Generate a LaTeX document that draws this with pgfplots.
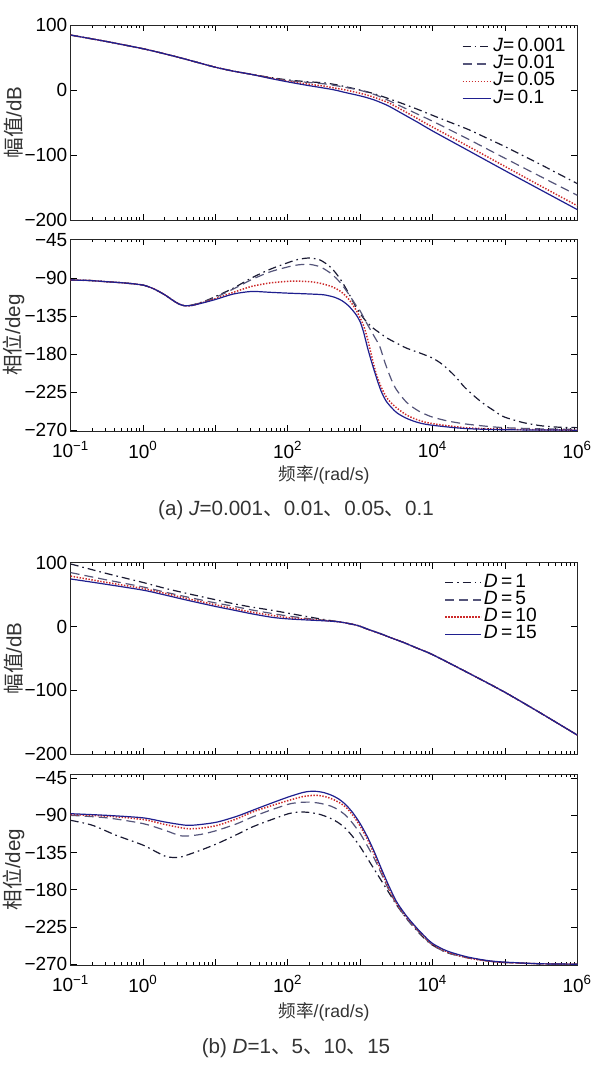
\documentclass[border=0pt]{standalone}
\usepackage{pgfplots}
\pgfplotsset{compat=1.18}
\usepackage{fontspec}
\setmainfont{Liberation Sans}
\newfontfamily\cjk{Noto Sans CJK SC}
\definecolor{cA}{HTML}{1A1A33}
\definecolor{cB}{HTML}{55557A}
\definecolor{cC}{HTML}{CC2A2A}
\definecolor{cD}{HTML}{1F1F8F}
\definecolor{lab}{HTML}{333333}
\pgfplotsset{
 bode/.style={
  scale only axis, width=253.3pt,
  xmin=-1, xmax=6,
  xtick={-1,0,1,2,3,4,5,6},
  minor xtick={-0.699,-0.523,-0.398,-0.301,-0.222,-0.155,-0.097,-0.046,
   0.301,0.477,0.602,0.699,0.778,0.845,0.903,0.954,
   1.301,1.477,1.602,1.699,1.778,1.845,1.903,1.954,
   2.301,2.477,2.602,2.699,2.778,2.845,2.903,2.954,
   3.301,3.477,3.602,3.699,3.778,3.845,3.903,3.954,
   4.301,4.477,4.602,4.699,4.778,4.845,4.903,4.954,
   5.301,5.477,5.602,5.699,5.778,5.845,5.903,5.954},
  tick align=inside,
  major tick length=3pt, minor tick length=1.6pt,
  every tick/.style={black, line width=0.4pt},
  axis line style={line width=0.5pt, black!85},
  tick label style={font=\fontsize{9.5}{10}\selectfont},
  yticklabel style={inner xsep=1.5pt},
  xticklabel style={yshift=-1.5pt},
  every axis plot/.append style={line width=0.6pt, smooth, tension=0.45},
  every axis y label/.style={at={(axis description cs:-0.113,0.5)}, rotate=90, anchor=center, font=\fontsize{10.3}{11}\selectfont, text=lab},
  every axis x label/.style={at={(axis description cs:0.5,0)}, anchor=center, yshift=-22pt, font=\fontsize{8.8}{10}\selectfont, text=lab},
  legend style={draw=none, fill=none, font=\fontsize{9.6}{9}\selectfont, inner sep=0pt, outer sep=0pt, row sep=0pt,
    nodes={inner ysep=0pt, inner xsep=1pt, text height=6.6pt, text depth=2pt}},
  legend cell align=left,
  legend image code/.code={\draw[#1] (0pt,0pt) -- (14pt,0pt);},
 },
 magax/.style={bode, ymin=-200, ymax=100, ytick={-200,-100,0,100},
  yticklabels={−200,−100,0,100}, xticklabels={}, ylabel={{\cjk 幅值}/dB}},
 phax/.style={bode, ymin=-271, ymax=-44, ytick={-270,-225,-180,-135,-90,-45},
  yticklabels={−270,−225,−180,−135,−90,−45},
  xticklabels={10\textsuperscript{−1},10\textsuperscript{0},,10\textsuperscript{2},,10\textsuperscript{4},,10\textsuperscript{6}},
  ylabel={{\cjk 相位}/deg}, xlabel={{\cjk 频率}/(rad/s)}},
 sA/.style={cA, dash pattern=on 4pt off 2pt on 0.8pt off 2pt},
 sB/.style={cB, dash pattern=on 4.5pt off 2.5pt},
 sC/.style={cC, line width=0.75pt, dash pattern=on 0.7pt off 0.8pt},
 sD/.style={cD},
}
\begin{document}
\begin{tikzpicture}
\useasboundingbox (0,0) rectangle (304pt,-536.5pt);
% ---------- (a) magnitude
\begin{axis}[magax, at={(35.35pt,-12.5pt)}, anchor=north west, height=97.5pt,
  legend style={at={(axis description cs:0.981,0.932)}, anchor=north east}]
\addplot[sA] coordinates {(-1,84.5) (-0.5,74.5) (0,63.5) (0.25,57) (0.5,50) (0.75,42.5) (1.0,35) (1.25,29) (1.5,24)
 (1.75,19.5) (2.0,15.5) (2.25,13) (2.5,11) (2.65,8.5) (2.8,5) (3.0,0) (3.2,-6) (3.4,-13.5) (3.6,-21.5) (3.8,-30) (4.0,-39) (4.25,-50) (4.5,-61) (4.75,-74) (5.0,-87) (5.25,-101) (5.5,-115) (5.75,-129.5) (6.0,-144)};
\addlegendentry{\textit{J}=\,0.001}
\addplot[sB] coordinates {(-1,84.5) (-0.5,74.5) (0,63.5) (0.25,57) (0.5,50) (0.75,42.5) (1.0,35) (1.25,29) (1.5,24)
 (1.75,19) (2.0,14.5) (2.25,12) (2.5,9.5) (2.65,7) (2.8,4) (3.0,-0.5) (3.2,-7) (3.4,-16.5) (3.6,-27) (3.8,-37.5) (4.0,-48) (4.5,-76) (5.0,-105) (5.5,-133.5) (6.0,-162)};
\addlegendentry{\textit{J}=\,0.01}
\addplot[sC] coordinates {(-1,84.5) (-0.5,74.5) (0,63.5) (0.25,57) (0.5,50) (0.75,42.5) (1.0,35) (1.25,29) (1.5,24)
 (1.75,18.5) (2.0,13.5) (2.25,9.5) (2.5,6) (2.65,3) (2.8,0) (3.0,-5) (3.1,-8) (3.2,-11.5) (3.3,-15.5) (3.4,-20) (3.6,-32) (3.8,-44.5) (4.0,-57) (4.5,-87) (5.0,-117.5) (5.5,-148) (6.0,-178)};
\addlegendentry{\textit{J}=\,0.05}
\addplot[sD] coordinates {(-1,84.5) (-0.5,74.5) (0,63.5) (0.25,57) (0.5,50) (0.75,42.5) (1.0,35) (1.25,29) (1.5,24)
 (1.75,18) (2.0,12.5) (2.25,7.5) (2.5,3) (2.65,0) (2.8,-4) (3.0,-9) (3.1,-12) (3.2,-15.5) (3.3,-20) (3.4,-25) (3.6,-37.5) (3.8,-50) (4.0,-63) (4.5,-93.5) (5.0,-124) (5.5,-154) (6.0,-184)};
\addlegendentry{\textit{J}=\,0.1}
\end{axis}
% ---------- (a) phase
\begin{axis}[phax, at={(35.35pt,-119.5pt)}, anchor=north west, height=96pt]
\addplot[sA] coordinates {(-1,-92.5) (-0.75,-93) (-0.5,-94.5) (-0.25,-96) (0,-98.5) (0.15,-103) (0.3,-110) (0.42,-117) (0.5,-121) (0.58,-123) (0.68,-122) (0.85,-117.5)
 (1.0,-112) (1.25,-102) (1.5,-90) (1.75,-80) (2.0,-72) (2.15,-68) (2.3,-66.5) (2.45,-69) (2.6,-78) (2.73,-92) (2.84,-108) (2.94,-124) (3.05,-138) (3.16,-148) (3.27,-155) (3.37,-161) (3.5,-167) (3.64,-173) (3.8,-178) (3.98,-184) (4.1,-190) (4.2,-197) (4.32,-207) (4.44,-219) (4.58,-230) (4.71,-239) (4.85,-247) (4.98,-254) (5.25,-261) (5.52,-265) (5.75,-266.5) (6.0,-267)};
\addplot[sB] coordinates {(-1,-92.5) (-0.75,-93) (-0.5,-94.5) (-0.25,-96) (0,-98.5) (0.15,-103) (0.3,-110) (0.42,-117) (0.5,-121) (0.58,-123) (0.68,-122) (0.85,-118)
 (1.0,-113) (1.25,-103) (1.5,-92) (1.75,-83) (2.0,-77) (2.15,-74.5) (2.3,-74) (2.45,-77) (2.6,-85) (2.73,-96) (2.84,-109) (2.94,-122) (3.0,-129) (3.1,-145) (3.2,-160) (3.27,-171) (3.35,-192) (3.43,-210) (3.5,-222) (3.64,-237) (3.8,-247) (3.98,-254) (4.2,-259) (4.44,-262.5) (4.7,-265) (4.98,-267) (5.5,-268.5) (6.0,-269)};
\addplot[sC] coordinates {(-1,-92.5) (-0.75,-93) (-0.5,-94.5) (-0.25,-96) (0,-98.5) (0.15,-103) (0.3,-110) (0.42,-117) (0.5,-121) (0.58,-123) (0.68,-122.5) (0.85,-118.5)
 (1.0,-114.5) (1.25,-107) (1.5,-100) (1.75,-96) (2.0,-94) (2.2,-94) (2.4,-95.5) (2.6,-100) (2.73,-106) (2.84,-115) (2.95,-129) (3.05,-147) (3.11,-165) (3.16,-183) (3.22,-203) (3.29,-219) (3.37,-232) (3.48,-242) (3.64,-252) (3.8,-258) (3.98,-262) (4.44,-267) (5.0,-269) (6.0,-270)};
\addplot[sD] coordinates {(-1,-92.5) (-0.75,-93) (-0.5,-94.5) (-0.25,-96) (0,-98.5) (0.15,-103) (0.3,-110) (0.42,-117) (0.5,-121) (0.58,-123) (0.68,-122.5) (0.85,-119)
 (1.0,-115.5) (1.25,-109) (1.5,-106) (1.75,-107) (2.0,-108) (2.3,-109) (2.5,-110) (2.65,-113) (2.75,-117) (2.84,-123) (2.94,-133) (3.0,-142) (3.05,-155) (3.1,-172) (3.16,-190) (3.24,-212) (3.3,-226) (3.37,-237) (3.5,-249) (3.64,-256) (3.8,-261) (3.98,-264) (4.44,-268) (5.0,-269.5) (6.0,-270)};
\end{axis}
\node[font=\fontsize{10.3}{11}\selectfont, text=lab] at (148pt,-255pt) {(a) \textit{J}=0.001{\cjk 、}0.01{\cjk 、}0.05{\cjk 、}0.1};
% ---------- (b) magnitude
\begin{axis}[magax, at={(35.35pt,-281.35pt)}, anchor=north west, height=95.75pt,
  legend style={at={(axis description cs:0.924,0.94)}, anchor=north east},
  legend image code/.code={\draw[#1] (0pt,0pt) -- (13.5pt,0pt); \path (0pt,0pt) -- (18pt,0pt);}]
\addplot[sA] coordinates {(-1,98) (-0.5,83) (0,69) (0.3,60) (0.6,52) (1.0,42) (1.24,36) (1.5,30.5) (1.78,25.5) (2.0,21) (2.32,14.5) (2.5,11) (2.7,7.5) (2.85,4.5) (2.97,1.5)
 (3.1,-4) (3.2,-8) (3.3,-12) (3.4,-16.5) (3.6,-25) (3.8,-34.5) (4.0,-44) (4.5,-73) (5.0,-103) (5.5,-136) (6.0,-170)};
\addlegendentry{\textit{D}\,=\,1}
\addplot[sB] coordinates {(-1,84.5) (-0.5,73) (0,62) (0.3,54) (0.6,46.5) (1.0,37) (1.24,32) (1.5,26) (1.78,20.5) (2.0,16.5) (2.32,12) (2.5,10) (2.7,7.5) (2.85,4.5) (2.97,1.5)
 (3.1,-4) (3.2,-8) (3.3,-12) (3.4,-16.5) (3.6,-25) (3.8,-34.5) (4.0,-44) (4.5,-73) (5.0,-103) (5.5,-136) (6.0,-170)};
\addlegendentry{\textit{D}\,=\,5}
\addplot[sC] coordinates {(-1,79) (-0.5,69) (0,59.5) (0.3,52) (0.6,44) (1.0,34) (1.24,28.5) (1.5,22.5) (1.78,17.5) (2.0,14) (2.32,11) (2.5,9.5) (2.7,7.5) (2.85,4.5) (2.97,1.5)
 (3.1,-4) (3.2,-8) (3.3,-12) (3.4,-16.5) (3.6,-25) (3.8,-34.5) (4.0,-44) (4.5,-73) (5.0,-103) (5.5,-136) (6.0,-170)};
\addlegendentry{\textit{D}\,=\,10}
\addplot[sD] coordinates {(-1,74.5) (-0.5,66) (0,57) (0.3,49.5) (0.6,41.5) (1.0,31.5) (1.24,26) (1.5,20) (1.78,14.5) (2.0,12) (2.32,10) (2.5,9) (2.7,7.5) (2.85,4.5) (2.97,1.5)
 (3.1,-4) (3.2,-8) (3.3,-12) (3.4,-16.5) (3.6,-25) (3.8,-34.5) (4.0,-44) (4.5,-73) (5.0,-103) (5.5,-136) (6.0,-170)};
\addlegendentry{\textit{D}\,=\,15}
\end{axis}
% ---------- (b) phase
\begin{axis}[phax, at={(35.35pt,-387pt)}, anchor=north west, height=95.5pt, ymax=-40,
  every axis x label/.append style={yshift=-1.5pt}]
\addplot[sA] coordinates {(-1,-96) (-0.7,-102) (-0.375,-114) (0,-126) (0.2,-135) (0.325,-140) (0.45,-141) (0.54,-140) (0.8,-132) (1.03,-124) (1.3,-113) (1.51,-104) (1.75,-96) (2.01,-88) (2.16,-86) (2.3,-86.5) (2.45,-89) (2.6,-94) (2.7,-99) (2.8,-106) (2.9,-116) (3.0,-128) (3.1,-142) (3.2,-156) (3.3,-170) (3.4,-184) (3.5,-198)
 (3.6,-210) (3.67,-218) (3.8,-231) (3.9,-240) (4.0,-247) (4.2,-256) (4.47,-262) (4.75,-266) (5.0,-268) (5.5,-269.5) (6.0,-270)};
\addplot[sB] coordinates {(-1,-90) (-0.5,-93) (0,-100) (0.3,-108) (0.54,-115) (0.8,-113) (1.03,-108) (1.3,-100) (1.51,-92) (1.75,-84) (2.01,-76.5) (2.15,-74.5) (2.3,-74) (2.45,-75.5) (2.6,-79) (2.7,-83.5) (2.8,-90) (2.9,-100) (3.0,-112) (3.1,-127) (3.2,-143) (3.3,-162) (3.4,-181) (3.5,-197)
 (3.6,-210) (3.67,-218) (3.8,-230) (3.9,-239) (4.0,-247) (4.2,-256) (4.47,-262) (4.75,-266) (5.0,-268) (5.5,-269.5) (6.0,-270)};
\addplot[sC] coordinates {(-1,-89) (-0.5,-91) (0,-95) (0.3,-101) (0.6,-106) (0.8,-105.5) (1.03,-102) (1.3,-94) (1.51,-86) (1.75,-79) (2.01,-72) (2.2,-67.5) (2.32,-66) (2.42,-66) (2.52,-67.5) (2.62,-70.5) (2.72,-75) (2.8,-80) (2.9,-90) (3.0,-103) (3.1,-119) (3.2,-138) (3.3,-159) (3.4,-179) (3.5,-196)
 (3.6,-208) (3.67,-216) (3.8,-229) (3.9,-238) (4.0,-246) (4.2,-255) (4.47,-262) (4.75,-266) (5.0,-268) (5.5,-269.5) (6.0,-270)};
\addplot[sD] coordinates {(-1,-88) (-0.5,-90) (0,-93) (0.3,-98) (0.6,-102) (0.8,-101) (1.03,-98) (1.3,-91) (1.51,-84) (1.75,-76) (2.0,-68) (2.2,-62.5) (2.3,-61) (2.4,-61) (2.5,-62.5) (2.6,-65.5) (2.7,-70) (2.8,-77) (2.9,-87) (3.0,-100) (3.1,-116) (3.2,-135) (3.3,-156) (3.4,-176) (3.5,-194)
 (3.6,-207) (3.67,-215) (3.8,-228) (3.9,-237) (4.0,-245) (4.2,-254) (4.47,-261) (4.75,-265.5) (5.0,-267.5) (5.5,-269.5) (6.0,-270)};
\end{axis}
\node[font=\fontsize{10.3}{11}\selectfont, text=lab] at (148pt,-524pt) {(b) \textit{D}=1{\cjk 、}5{\cjk 、}10{\cjk 、}15};
\end{tikzpicture}
\end{document}
